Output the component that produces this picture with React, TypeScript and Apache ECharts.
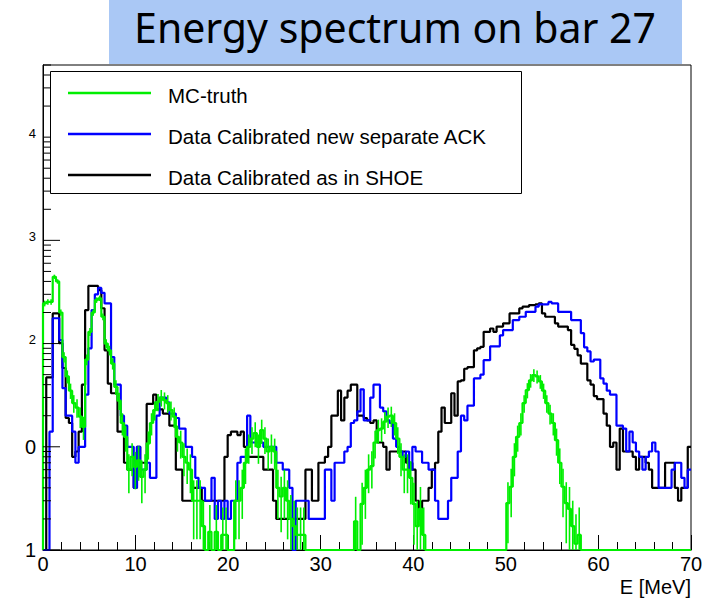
import { useEffect, useRef } from "react";
import * as echarts from "echarts";

// ---------- data ----------
const TITLE = "Energy spectrum on bar 27";
const X_NAME = "E [MeV]";
const X_MIN = 0;
const X_MAX = 70;
const X_INTERVAL = 10;
const BIN_WIDTH = 0.35;
const Y_MIN = 1;
const Y_MAX = 50000;
const LEGEND_LABELS = ["MC-truth", "Data Calibrated new separate ACK", "Data Calibrated as in SHOE"];

// MC-truth (green), 200 bins of 0.35 MeV
const mcTruth = [
  245, 253, 253, 444, 400, 200, 74, 48, 35, 26.5,
  24, 19.6, 15.6, 70, 130, 200, 264, 275, 182, 100,
  86, 64, 38, 28, 17, 12.5, 6, 8, 6.4, 7.4,
  5.1, 6, 10.8, 17, 22.7, 27.3, 30, 28.3, 26.5, 22.7,
  19.6, 12.5, 11, 8, 7, 6, 3, 3, 3, 1.7,
  1, 1.5, 1, 1.5, 1, 1.4, 1.4, 1, 1, 3,
  3, 4, 7, 10, 12, 13.6, 10, 14.5, 12, 9,
  10, 9, 4, 3.3, 4, 3, 2, 1.7, 1.4, 1.4,
  1.4, 1, 1, 1, 1, 1, 1, 1, 1, 1,
  1, 1, 1, 1, 1, 1, 1.9, 1, 2.8, 4,
  6, 6.5, 11, 14.5, 15, 17.5, 19.6, 20, 17, 12,
  8, 6, 6, 5, 2.8, 1.7, 2.5, 1.4, 1, 1,
  1, 1, 1, 1, 1, 1, 1, 1, 1, 1,
  1, 1, 1, 1, 1, 1, 1, 1, 1, 1,
  1, 1, 1, 2.85, 4.1, 8, 12.5, 17, 26.5, 35.4,
  44, 49.5, 48, 43, 35, 26.5, 21, 17, 11.6, 7,
  4.1, 2.85, 2.5, 1.7, 1.15, 1.4, 1, 1, 1, 1,
  1, 1, 1, 1, 1, 1, 1, 1, 1, 1,
  1, 1, 1, 1, 1, 1, 1, 1, 1, 1,
  1, 1, 1, 1, 1, 1, 1, 1, 1, 1,
];

// Data calibrated new separate ACK (blue)
const dataAck = [
  1, 1, 14, 176, 176, 108, 37, 20, 20, 14,
  7, 10, 10, 32, 90, 211, 300, 346, 310, 245,
  245, 74, 40, 40, 20, 16, 10, 10, 4, 10,
  6, 6, 7, 5, 5, 20, 30, 30, 27, 21,
  21, 19, 15, 15, 10, 10, 8, 5, 4, 4,
  3, 3, 5, 2, 3, 2, 3, 2, 3, 3,
  7, 8, 8, 20, 11, 11, 11, 11, 10, 10,
  10, 10, 7, 7, 6, 6, 4, 1, 3, 3,
  3, 3, 2, 2, 2, 2, 2, 6, 6, 3,
  7, 7, 7, 9, 10, 17, 18, 22, 36, 18,
  18, 30, 40, 40, 24, 22, 18, 17, 12, 10,
  9, 8, 9, 6, 10, 9, 9, 7, 7, 6,
  6, 3, 2, 2, 2, 3, 5, 5, 9, 20,
  18, 25, 25, 46, 46, 50, 69, 69, 94, 94,
  94, 120, 135, 135, 135, 169, 169, 182, 182, 203,
  203, 203, 228, 240, 240, 240, 253, 245, 245, 203,
  203, 203, 203, 169, 169, 169, 126, 92, 84, 67,
  70, 70, 46, 41, 35, 32, 32, 16, 16, 15,
  9, 14, 11, 9, 8, 6, 8, 9, 11, 9,
  4, 4, 4, 4, 6, 7, 7, 5, 4, 6,
];

// Data calibrated as in SHOE (black)
const dataShoe = [
  1, 47, 47, 196, 196, 101, 58, 19, 17, 8,
  9, 14, 40, 211, 362, 362, 362, 330, 220, 86,
  41, 33, 33, 14, 14, 7, 6, 6, 4, 10,
  7, 7, 26, 26, 32, 23, 23, 21, 21, 16,
  16, 6, 6, 3, 3, 3, 4, 4, 4, 3,
  3, 3, 3, 3, 3, 3, 8, 13, 14, 14,
  13, 14, 10, 8, 8, 8, 8, 8, 6, 6,
  6, 3, 2, 2, 2, 2, 2, 2, 2, 2,
  2, 6, 6, 3, 3, 7, 7, 8, 10, 20,
  20, 35, 18, 30, 35, 40, 40, 20, 20, 19,
  18, 17, 18, 11, 11, 10, 6, 9, 9, 9,
  9, 9, 7, 7, 6, 3, 2, 3, 3, 4,
  6, 7, 14, 24, 17, 17, 33, 20, 43, 44,
  57, 59, 59, 86, 90, 93, 130, 130, 140, 130,
  146, 146, 157, 157, 196, 196, 196, 219, 228, 228,
  236, 236, 240, 245, 196, 182, 182, 182, 157, 146,
  146, 146, 135, 97, 89, 77, 64, 64, 44, 40,
  31, 29, 29, 21, 16, 10, 11, 6, 15, 9,
  9, 9, 8, 6, 8, 8, 7, 6, 4, 4,
  4, 4, 7, 7, 7, 4, 3, 4, 4, 10,
];

// ---------- helpers ----------
function toSteps(values: number[]) {
  const pts: number[][] = [[X_MIN, Y_MIN]];
  values.forEach((v, i) => pts.push([X_MIN + i * BIN_WIDTH, v]));
  pts.push([X_MIN + values.length * BIN_WIDTH, values[values.length - 1]]);
  return pts;
}

function errorBars(values: number[]) {
  const out: number[][] = [];
  values.forEach((v, i) => {
    if (v <= Y_MIN) return;
    const e = Math.sqrt(v);
    out.push([X_MIN + (i + 0.5) * BIN_WIDTH, v, Math.max(v - e, Y_MIN), v + e]);
  });
  return out;
}

function yTickValues() {
  const out: number[][] = [];
  for (let d = 0; d <= 5; d++) {
    for (let m = 1; m <= 9; m++) {
      const v = m * Math.pow(10, d);
      if (v >= Y_MIN && v <= Y_MAX) out.push([X_MIN, v, m === 1 ? 1 : 0]);
    }
  }
  return out;
}

const GREEN = "#00ee00";
const BLUE = "#0000ff";
const BLACK = "#000000";
const FONT = "Liberation Sans";

export default function App() {
  const ref = useRef<HTMLDivElement | null>(null);

  useEffect(() => {
    if (!ref.current) return;
    const chart = echarts.init(ref.current, undefined, { renderer: "svg" });

    const legendY = [93, 134, 175];
    const legendColors = [GREEN, BLUE, BLACK];

    const graphics: any[] = [
      {
        type: "rect",
        z: 100,
        shape: { x: 109, y: 0, width: 573, height: 64 },
        style: { fill: "#aac8f5" },
      },
      {
        type: "text",
        z: 101,
        x: 395,
        y: 27,
        style: {
          text: TITLE,
          fontSize: 41,
          fontFamily: "Noto Sans",
          fill: "#000",
          align: "center",
          verticalAlign: "middle",
          textAlign: "center",
          textVerticalAlign: "middle",
        },
      },
      {
        type: "rect",
        z: 100,
        shape: { x: 50.5, y: 71.5, width: 471, height: 122 },
        style: { fill: "#fff", stroke: "#000", lineWidth: 1 },
      },
      {
        type: "text",
        z: 101,
        x: 691,
        y: 587,
        style: {
          text: X_NAME,
          fontSize: 20,
          fontFamily: FONT,
          fill: "#000",
          align: "right",
          verticalAlign: "middle",
          textAlign: "right",
          textVerticalAlign: "middle",
        },
      },
    ];
    LEGEND_LABELS.forEach((label, k) => {
      graphics.push({
        type: "line",
        z: 101,
        shape: { x1: 68, y1: legendY[k], x2: 151, y2: legendY[k] },
        style: { stroke: legendColors[k], lineWidth: 2.5 },
      });
      graphics.push({
        type: "text",
        z: 101,
        x: 168,
        y: legendY[k] + 2,
        style: {
          text: label,
          fontSize: 20.5,
          fontFamily: FONT,
          fill: "#000",
          align: "left",
          verticalAlign: "middle",
          textAlign: "left",
          textVerticalAlign: "middle",
        },
      });
    });

    const option: any = {
      animation: false,
      backgroundColor: "#fff",
      grid: {
        left: 43,
        top: 65,
        width: 648,
        height: 485,
        show: true,
        borderColor: "#000",
        borderWidth: 1,
        backgroundColor: "transparent",
      },
      xAxis: {
        type: "value",
        min: X_MIN,
        max: X_MAX,
        interval: X_INTERVAL,
        axisLine: { show: true, onZero: false, lineStyle: { color: "#000", width: 1 } },
        axisTick: { show: true, inside: true, length: 15, lineStyle: { color: "#000" } },
        minorTick: { show: true, splitNumber: 5, length: 8, lineStyle: { color: "#000" } },
        splitLine: { show: false },
        axisLabel: { fontSize: 20, color: "#000", fontFamily: FONT, margin: 4 },
      },
      yAxis: {
        type: "log",
        logBase: 10,
        min: Y_MIN,
        max: Y_MAX,
        splitNumber: 5,
        axisLine: { show: true, lineStyle: { color: "#000", width: 1 } },
        axisTick: { show: false },
        splitLine: { show: false },
        axisLabel: {
          fontSize: 20,
          color: "#000",
          fontFamily: FONT,
          margin: 7,
          formatter: (v: number) => {
            const lg = Math.log10(v);
            const r = Math.round(lg);
            if (Math.abs(lg - r) > 1e-6) return "";
            if (r === 0) return "1";
            if (r === 1) return "0";
            return "{s|" + r + "}";
          },
          rich: {
            s: { fontSize: 13, fontFamily: FONT, color: "#000", padding: [0, 0, 8, 0] },
          },
        },
      },
      graphic: graphics,
      series: [
        {
          name: LEGEND_LABELS[2],
          type: "line",
          step: "end",
          data: toSteps(dataShoe),
          symbol: "none",
          showSymbol: false,
          lineStyle: { color: BLACK, width: 2.2 },
          itemStyle: { color: BLACK },
          silent: true,
          z: 3,
        },
        {
          name: LEGEND_LABELS[1],
          type: "line",
          step: "end",
          data: toSteps(dataAck),
          symbol: "none",
          showSymbol: false,
          lineStyle: { color: BLUE, width: 2.2 },
          itemStyle: { color: BLUE },
          silent: true,
          z: 4,
        },
        {
          name: LEGEND_LABELS[0],
          type: "line",
          step: "end",
          data: toSteps(mcTruth),
          symbol: "none",
          showSymbol: false,
          lineStyle: { color: GREEN, width: 2.2 },
          itemStyle: { color: GREEN },
          silent: true,
          z: 5,
        },
        {
          name: "MC errors",
          type: "custom",
          silent: true,
          z: 5,
          data: errorBars(mcTruth),
          encode: { x: 0, y: 1 },
          renderItem: (_p: any, api: any) => {
            const x = api.value(0);
            const a = api.coord([x, api.value(2)]);
            const b = api.coord([x, api.value(3)]);
            return {
              type: "line",
              shape: { x1: a[0], y1: a[1], x2: b[0], y2: b[1] },
              style: { stroke: GREEN, lineWidth: 1.6 },
            };
          },
        },
        {
          name: "y ticks",
          type: "custom",
          silent: true,
          z: 6,
          data: yTickValues(),
          encode: { x: 0, y: 1 },
          renderItem: (_p: any, api: any) => {
            const p = api.coord([api.value(0), api.value(1)]);
            const len = api.value(2) === 1 ? 17 : 8;
            return {
              type: "line",
              shape: { x1: p[0], y1: p[1], x2: p[0] + len, y2: p[1] },
              style: { stroke: "#000", lineWidth: 1 },
            };
          },
        },
      ],
    };

    chart.setOption(option);
    return () => chart.dispose();
  }, []);

  return (
    <div
      ref={ref}
      style={{ position: "absolute", left: 0, top: 0, width: 720, height: 600, background: "#fff" }}
    />
  );
}
